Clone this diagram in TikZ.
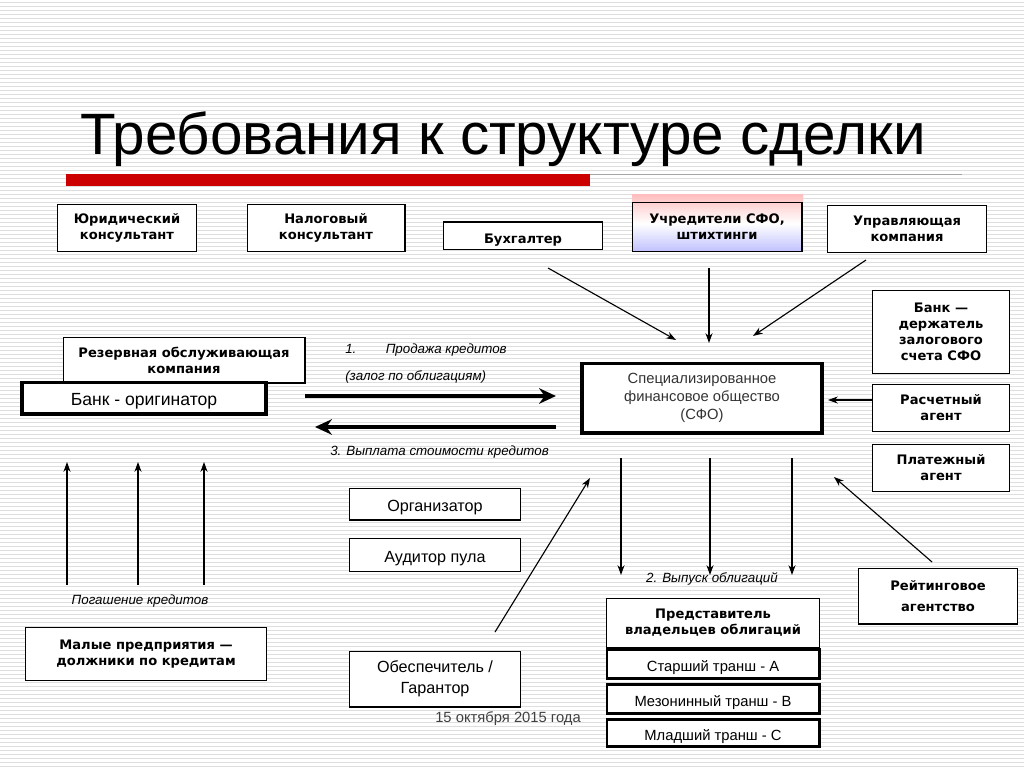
\documentclass[tikz,border=0pt]{standalone}
\usepackage{fontspec}
\setmainfont{Liberation Sans}
\newfontfamily\boxfont{DejaVu Sans}
\usetikzlibrary{arrows.meta}
\tikzset{
  box/.style={draw, fill=white, line width=0.9pt, align=center, inner sep=1pt,
    font=\boxfont\bfseries\fontsize{9.3}{11.5}\selectfont},
  bigbox/.style={draw, fill=white, line width=2.6pt, align=center, inner sep=1pt},
  one line/.style={text height=2.2ex, text depth=0.2ex},
  thin arrow/.style={-{Stealth[length=7pt,width=5pt]}, line width=0.8pt},
  fat arrow/.style={-{Stealth[length=12pt,width=11pt]}, line width=2.4pt},
  lbl/.style={font=\itshape\fontsize{9.5}{11}\selectfont, inner sep=0pt}
}
\newcommand{\bx}[6]{\node[#1, minimum width=#4*0.025cm-0.9pt, minimum height=#5*0.025cm-0.9pt] (#2) at (#3) {#6};}
\begin{document}
\begin{tikzpicture}[x=0.025cm, y=-0.025cm]
\useasboundingbox (0,0) rectangle (1024,767);
\fill[white] (0,0) rectangle (1024,767);
% background stripes
\foreach \y in {2,6,...,766} \draw[black!13, line width=0.6pt] (0,\y) -- (1024,\y);
% title
\node[anchor=base west, inner sep=0pt, font=\fontsize{41.5}{48}\selectfont] (title) at (80,155) {Требования к структуре сделки};
\draw[black!35, line width=0.6pt] (66,174) -- (962,174);
\fill[red!80!black] (66,174) rectangle (590,186);
% top row
\bx{box}{jur}{127,228}{140}{48}{Юридический\\консультант}
\bx{box}{tax}{326,228}{159}{48}{Налоговый\\консультант}
\bx{box, one line}{acc}{523,236}{160}{29}{Бухгалтер}
\shade[top color=red!25, bottom color=blue!25, middle color=white] (632,195) rectangle (803,252);
\node[box, fill=none, minimum width=171*0.025cm-0.9pt, minimum height=50*0.025cm-0.9pt] (found) at (717,227) {Учредители СФО,\\штихтинги};
\bx{box}{mgmt}{907,229}{160}{48}{Управляющая\\компания}
% right column
\bx{box}{hold}{941,332}{138}{84}{Банк —\\держатель\\залогового\\счета СФО}
\bx{box}{calc}{941,408}{138}{48}{Расчетный\\агент}
\bx{box}{pay}{941,468}{138}{48}{Платежный\\агент}
\bx{box}{rate}{938,596}{160}{57}{Рейтинговое\\[3pt]агентство}
% centre
\node[bigbox, minimum width=244*0.025cm-2.6pt, minimum height=73*0.025cm-2.6pt,
  font=\fontsize{10.5}{13}\selectfont, text=black!80] (spv) at (702,398)
  {Специализированное\\финансовое общество\\(СФО)};
\bx{box}{res}{184,360}{243}{47}{Резервная обслуживающая\\компания}
\node[bigbox, one line, minimum width=248*0.025cm-2.6pt, minimum height=35*0.025cm-2.6pt,
  font=\fontsize{12.5}{14}\selectfont] (orig) at (144,398) {Банк - оригинатор};
\bx{box, one line, font=\fontsize{11.5}{13}\selectfont}{org}{435,504}{172}{33}{Организатор}
\bx{box, one line, font=\fontsize{11.5}{13}\selectfont}{aud}{435,555}{172}{34}{Аудитор пула}
\bx{box, font=\fontsize{11.5}{15}\selectfont}{guar}{435,679}{172}{57}{Обеспечитель /\\Гарантор}
\bx{box}{debt}{146,654}{242}{54}{Малые предприятия —\\должники по кредитам}
% tranches
\bx{box}{rep}{713,623}{214}{50}{Представитель\\владельцев облигаций}
\tikzset{tr/.style={bigbox, one line, line width=2pt, minimum width=215*0.025cm-2pt, font=\fontsize{10.5}{12}\selectfont}}
\node[tr, minimum height=32*0.025cm-2pt] (trA) at (713,664) {Старший транш - А};
\node[tr, minimum height=32*0.025cm-2pt] (trB) at (713,699) {Мезонинный транш - В};
\node[tr, minimum height=30*0.025cm-2pt] (trC) at (713,733) {Младший транш - С};
\node[font=\fontsize{10.5}{12}\selectfont, text=black!75, inner sep=0pt, anchor=base] (date) at (508,722) {15 октября 2015 года};
% arrows into SPV
\coordinate (accE) at (548,268); \coordinate (accT) at (676,340);
\draw[thin arrow] (accE) -- (accT);
\coordinate (fndE) at (709,268); \coordinate (fndT) at (709,343);
\draw[thin arrow] (fndE) -- (fndT);
\coordinate (mgE) at (866,260); \coordinate (mgT) at (753,336);
\draw[thin arrow] (mgE) -- (mgT);
\coordinate (calcT) at (828,400);
\draw[thin arrow] (calc.west |- calcT) -- (calcT);
\coordinate (rtE) at (932,562); \coordinate (rtT) at (834,477);
\draw[thin arrow] (rtE) -- (rtT);
\coordinate (grE) at (495,632); \coordinate (grT) at (590,478);
\draw[thin arrow] (grE) -- (grT);
% bond issue
\foreach \x in {621,710,792} {
  \coordinate (iss\x a) at (\x,458); \coordinate (iss\x b) at (\x,575);
  \draw[thin arrow] (iss\x a) -- (iss\x b);
}
\node[lbl, anchor=base] (issue) at (712,582) {2. Выпуск облигаций};
% sale and payment
\coordinate (saleA) at (305,396); \coordinate (saleB) at (556,396);
\draw[fat arrow] (saleA) -- (saleB);
\coordinate (payA) at (556,427); \coordinate (payB) at (315,427);
\draw[fat arrow] (payA) -- (payB);
\node[lbl, anchor=base west] (sale1) at (345,353) {1.\hspace{2.2em}Продажа кредитов};
\node[lbl, anchor=base west] (sale2) at (345,380) {(залог по облигациям)};
\node[lbl, anchor=base west] (pay3) at (330,455) {3. Выплата стоимости кредитов};
% repayment
\foreach \x in {67,138,204} {
  \coordinate (rp\x a) at (\x,585); \coordinate (rp\x b) at (\x,462);
  \draw[thin arrow] (rp\x a) -- (rp\x b);
}
\node[lbl, anchor=base] (repay) at (140,604) {Погашение кредитов};
\end{tikzpicture}
\end{document}
